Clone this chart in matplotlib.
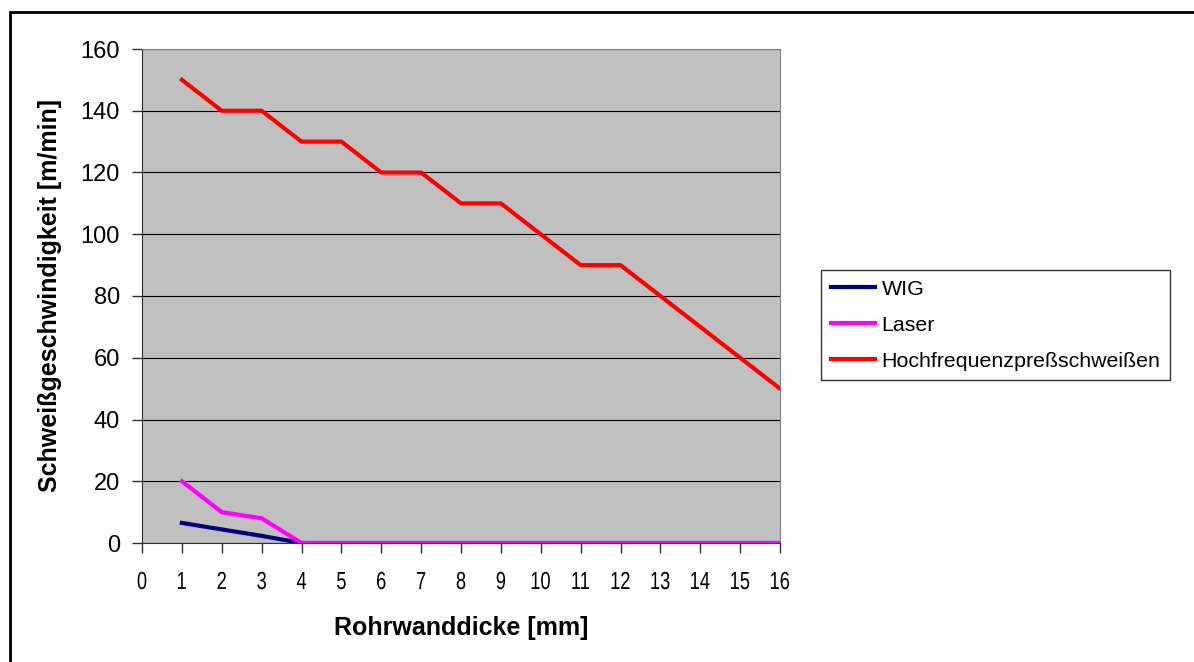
import matplotlib.pyplot as plt
import matplotlib.transforms as mtransforms
from matplotlib.patches import Rectangle, PathPatch
from matplotlib.textpath import TextPath
from matplotlib.font_manager import FontProperties

thickness = [1, 2, 3, 4, 5, 6, 7, 8, 9, 10, 11, 12, 13, 14, 15, 16]
wig = [6.5, 4.4, 2.3, 0, 0, 0, 0, 0, 0, 0, 0, 0, 0, 0, 0, 0]
laser = [20, 10, 8, 0, 0, 0, 0, 0, 0, 0, 0, 0, 0, 0, 0, 0]
hf = [150, 140, 140, 130, 130, 120, 120, 110, 110, 100, 90, 90, 80, 70, 60, 50]
x_ticks = list(range(0, 17))
y_ticks = [0, 20, 40, 60, 80, 100, 120, 140, 160]

plt.rcParams['font.family'] = ['Liberation Sans', 'DejaVu Sans']

W, H = 1194, 662
fig = plt.figure(figsize=(W / 100, H / 100), dpi=100)
# outer chart border (only top and left edges are visible)
fig.patches.append(Rectangle((10 / W, -0.1), 1.2, (H - 12) / H + 0.1,
                             transform=fig.transFigure, fill=False,
                             edgecolor='black', linewidth=2))

ax = fig.add_axes([142 / W, 1 - 543 / H, (780 - 142) / W, (543 - 49) / H])
ax.set_facecolor('#C0C0C0')

ax.plot(thickness, wig, color='#000080', lw=3, label='WIG')
ax.plot(thickness, laser, color='#FF00FF', lw=3, label='Laser')
ax.plot(thickness, hf, color='#FF0000', lw=3, label='Hochfrequenzpreßschweißen')

ax.set_xlim(0, 16)
ax.set_ylim(0, 160)
ax.set_xticks(x_ticks)
ax.set_yticks(y_ticks)
ax.grid(axis='y', color='black', lw=0.8)
ax.set_axisbelow(True)

for s in ['top', 'right']:
    ax.spines[s].set_color('#808080')
ax.spines['left'].set_color('#303030')
ax.spines['bottom'].set_color('#303030')
ax.tick_params(axis='both', direction='out', length=7, width=1, color='#303030')
ax.tick_params(axis='y', labelsize=17, pad=9)
ax.tick_params(axis='x', labelbottom=False)

# x tick labels in a condensed look (Arial Narrow is not available)
prop = FontProperties(family='Liberation Sans')
for t in x_ticks:
    tp = TextPath((0, 0), str(t), size=24.7, prop=prop)
    ext = tp.get_extents()
    px, py = ax.transData.transform((t, 0))
    tr = (mtransforms.Affine2D()
          .translate(-(ext.x0 + ext.x1) / 2, 0)
          .scale(0.74, 1)
          .translate(px, py - 46))
    fig.patches.append(PathPatch(tp, transform=tr, facecolor='black', lw=0))

ax.set_ylabel('Schweißgeschwindigkeit [m/min]', fontsize=18, fontweight='bold')
ax.yaxis.set_label_coords(-0.125, 0.5)
ax.set_xlabel('Rohrwanddicke [mm]', fontsize=18, fontweight='bold')
ax.xaxis.set_label_coords(0.5, -0.148)

leg = fig.legend(handles=ax.get_lines(), loc='upper left',
                 bbox_to_anchor=(821 / W, 1 - 270 / H),
                 frameon=True, fancybox=False, edgecolor='black',
                 prop={'size': 15.4},
                 handlelength=2.09, handletextpad=0.3, labelspacing=0.8,
                 borderpad=0.45, borderaxespad=0)
leg.get_frame().set_linewidth(1)

fig.savefig('out.png', dpi=100)
